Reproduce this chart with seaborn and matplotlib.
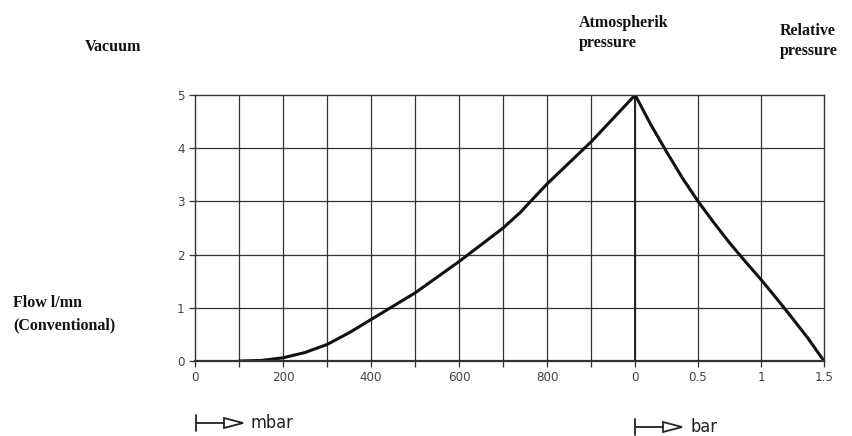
import numpy as np
import pandas as pd
import matplotlib
matplotlib.use("Agg")
import matplotlib.pyplot as plt
from matplotlib.lines import Line2D
from matplotlib.patches import Polygon
import seaborn as sns

# Vacuum side (mbar) and relative pressure side (bar)
vac_mbar = [100, 150, 200, 250, 300, 350, 400, 500, 600, 700, 740, 760, 800, 900, 1000]
vac_flow = [0.0, 0.01, 0.06, 0.16, 0.31, 0.53, 0.78, 1.28, 1.87, 2.5, 2.8, 2.98, 3.33, 4.12, 5.0]
rel_bar = [0.0, 0.125, 0.25, 0.375, 0.5, 0.625, 0.75, 0.875, 1.0, 1.125, 1.25, 1.375, 1.5]
rel_flow = [5.0, 4.44, 3.93, 3.44, 3.0, 2.6, 2.22, 1.87, 1.53, 1.17, 0.8, 0.42, 0.0]

mbar_ticks = [0, 200, 400, 600, 800]
bar_ticks = [0, 0.5, 1, 1.5]
bar_tick_labels = ["0", "0.5", "1", "1.5"]

# one bar drawn as 286 mbar units (scale of the original graph paper)
BAR_SCALE = 286


def bar_to_x(b):
    return 1000 + np.asarray(b) * BAR_SCALE


df = pd.DataFrame({
    "x": list(vac_mbar) + list(bar_to_x(rel_bar)),
    "flow": vac_flow + rel_flow,
})

sns.set_style("white")
plt.rcParams['font.family'] = ['DejaVu Sans']

W, H = 852, 436
fig = plt.figure(figsize=(W / 100, H / 100), dpi=100)
ax = fig.add_axes([195 / W, 1 - 361 / H, (824 - 195) / W, (361 - 95) / H])

sns.lineplot(data=df, x="x", y="flow", color="#111111", linewidth=2.2, sort=False, ax=ax)

xmax = float(bar_to_x(1.5))
ax.set_xlim(0, xmax)
ax.set_ylim(0, 5)

grid_x = list(range(100, 1001, 100)) + list(bar_to_x([0.5, 1.0]))
for gx in grid_x:
    ax.axvline(gx, color="#333333", linewidth=0.9, zorder=0)
for gy in [1, 2, 3, 4]:
    ax.axhline(gy, color="#333333", linewidth=0.9, zorder=0)
ax.axvline(1000, color="#222222", linewidth=1.4, zorder=0)

xt = mbar_ticks + list(bar_to_x(bar_ticks))
xl = [str(t) for t in mbar_ticks] + bar_tick_labels
ax.set_xticks(xt)
ax.set_xticklabels(xl)
ax.set_xticks([100, 300, 500, 700, 900], minor=True)
ax.set_yticks([0, 1, 2, 3, 4, 5])
ax.tick_params(axis="both", which="both", direction="out", length=4, width=0.9,
               colors="#333333", labelsize=9.5, labelcolor="#444444")
ax.tick_params(axis="both", bottom=True, left=True, which="both")
for lab in ax.get_xticklabels() + ax.get_yticklabels():
    lab.set_fontstretch("condensed")
ax.set_xlabel("")
ax.set_ylabel("")
for s in ax.spines.values():
    s.set_color("#333333")
    s.set_linewidth(1.0)
ax.spines["bottom"].set_linewidth(1.6)

serif = dict(family="Liberation Serif", fontweight="bold", fontsize=11.5, color="#111111")
fig.text(85 / W, 1 - 47 / H, "Vacuum", va="center", ha="left", **serif)
fig.text(579 / W, 1 - 33 / H, "Atmospherik\npressure", va="center", ha="left",
         linespacing=1.3, **serif)
fig.text(780 / W, 1 - 41 / H, "Relative\npressure", va="center", ha="left",
         linespacing=1.3, **serif)
fig.text(13 / W, 1 - 314 / H, "Flow l/mn\n(Conventional)", va="center", ha="left",
         linespacing=1.5, **serif)


def unit_arrow(x0, y0, label):
    # |---|> marker, positions in pixels of the original picture
    fy = 1 - y0 / H
    fig.add_artist(Line2D([x0 / W, x0 / W], [fy - 8 / H, fy + 8 / H], color="#222222", lw=1.3))
    fig.add_artist(Line2D([x0 / W, (x0 + 28) / W], [fy, fy], color="#222222", lw=1.3))
    tri = Polygon([[(x0 + 28) / W, fy + 5 / H], [(x0 + 47) / W, fy], [(x0 + 28) / W, fy - 5 / H]],
                  closed=True, facecolor="white", edgecolor="#222222", lw=1.3,
                  transform=fig.transFigure)
    fig.add_artist(tri)
    fig.text((x0 + 55) / W, fy, label, va="center", ha="left", fontsize=13,
             fontstretch="condensed", color="#222222")


unit_arrow(196, 423, "mbar")
unit_arrow(635, 427, "bar")

fig.savefig("out.png", dpi=100)
